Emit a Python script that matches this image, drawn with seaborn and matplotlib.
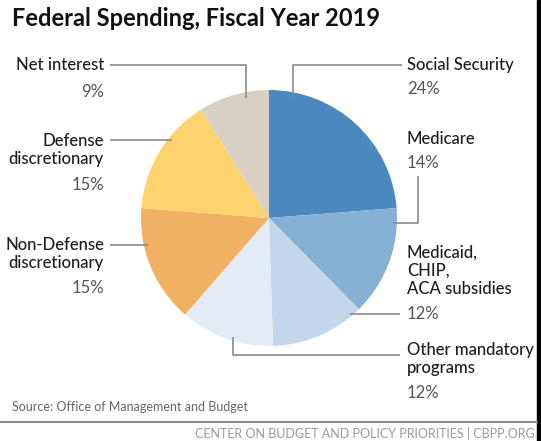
import matplotlib
matplotlib.use('Agg')
import matplotlib.pyplot as plt
import matplotlib.patches as mpatches
import seaborn as sns

# données (en % du total)
categories = ['Social Security', 'Medicare', 'Medicaid,\nCHIP,\nACA subsidies',
              'Other mandatory\nprograms', 'Non-Defense\ndiscretionary',
              'Defense\ndiscretionary', 'Net interest']
valeurs = [24, 14, 12, 12, 15, 15, 9]
couleurs = ['#4a88bf', '#87b1d4', '#c2d7e9', '#e3ecf5', '#f0b262', '#fdd36e', '#d8cfc5']

sns.set_theme(style='white')
plt.rcParams['font.family'] = ['Lato', 'DejaVu Sans']

W, H = 541, 441
fig = plt.figure(figsize=(W / 100, H / 100), dpi=100)
ax = fig.add_axes([0, 0, 1, 1])

# le camembert (axe y inversé -> sens horaire depuis midi)
cx, cy, r = 269, 218, 128
ax.pie(valeurs, colors=couleurs, startangle=-90, counterclock=True,
       center=(cx, cy), radius=r, wedgeprops=dict(linewidth=0))
ax.set_xlim(0, W)
ax.set_ylim(H, 0)
ax.set_aspect('equal')
ax.axis('off')

# position des étiquettes : (x, y nom, y pourcentage, alignement)
etiquettes = [
    (407, 65, 89, 'left'),
    (407, 139, 163, 'left'),
    (407, 271, 314, 'left'),
    (407, 359, 393, 'left'),
    (104, 254, 288, 'right'),
    (104, 150, 185, 'right'),
    (104, 65, 92, 'right'),
]
# traits de rappel
traits = [
    ([402, 293, 293], [65, 65, 98]),
    ([418, 418, 393], [176, 223, 223]),
    ([400, 350], [314, 314]),
    ([400, 233, 233], [355, 355, 337]),
    ([110, 148], [245, 245]),
    ([110, 172], [140, 140]),
    ([110, 246, 246], [65, 65, 98]),
]

for cat, val, (x, yn, yp, ha), (lx, ly) in zip(categories, valeurs, etiquettes, traits):
    ax.text(x, yn, cat, ha=ha, va='center', fontsize=12, color='#1e1e1e',
            fontweight='medium', linespacing=1.15)
    ax.text(x, yp, f'{val}%', ha=ha, va='center', fontsize=12, color='#555555')
    ax.plot(lx, ly, color='#8a8a8a', lw=1.2, solid_capstyle='butt')

ax.text(12, 19, 'Federal Spending, Fiscal Year 2019', ha='left', va='center',
        fontsize=17, fontweight='bold', color='#111111')
ax.text(12, 407, 'Source: Office of Management and Budget', ha='left', va='center',
        fontsize=9, color='#666666')
ax.plot([0, 537], [422, 422], color='#8a8a8a', lw=1.5)
ax.text(535, 433, 'CENTER ON BUDGET AND POLICY PRIORITIES | CBPP.ORG', ha='right',
        va='center', fontsize=9, color='#9a9a9a')
ax.add_patch(mpatches.Rectangle((537, 0), 4, H, color='black'))

fig.savefig('out.png', dpi=100)
